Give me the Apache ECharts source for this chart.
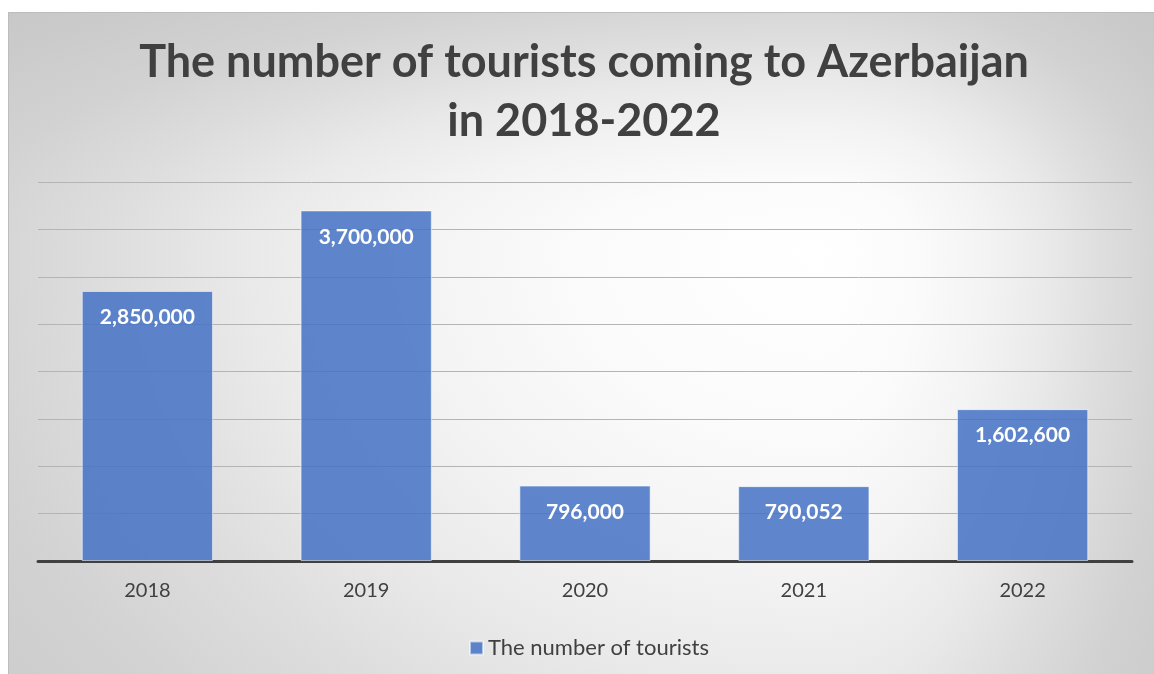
<!DOCTYPE html>
<html>
<head>
<meta charset="utf-8">
<script src="https://cdn.jsdelivr.net/npm/echarts@6/dist/echarts.min.js"></script>
<style>
  html, body { margin: 0; padding: 0; background: #ffffff; }
  #chart { width: 1154px; height: 674px; }
</style>
</head>
<body>
<div id="chart"></div>
<script>
const titleText = 'The number of tourists coming to Azerbaijan\nin 2018-2022';
const seriesName = 'The number of tourists';
const years = ['2018', '2019', '2020', '2021', '2022'];
const tourists = [2850000, 3700000, 796000, 790052, 1602600];

const FONT = 'Lato, "Open Sans", sans-serif';
const chart = echarts.init(document.getElementById('chart'), null, { renderer: 'canvas' });

// Chart-area backdrop: a light spot fading to grey, stretched differently
// towards each side (four quarter-discs, each scaled on its own).
const FX = 820, FY = 250;            // brightest point
const reach = { left: 800, right: 320, top: 238, bottom: 615 };
const R = 150;                        // local radius = 1.5 x reach
function shadeStops() {
  return [
    { offset: 0.00, color: '#ffffff' },
    { offset: 0.20, color: '#fbfbfb' },
    { offset: 0.35, color: '#f3f3f3' },
    { offset: 0.48, color: '#e9e9e9' },
    { offset: 0.60, color: '#dddddd' },
    { offset: 0.73, color: '#d2d2d2' },
    { offset: 0.87, color: '#cbcbcb' },
    { offset: 1.00, color: '#c6c6c6' }
  ];
}
const eps = 0.01;
const quarters = [
  { a0: 0 - eps,            a1: Math.PI / 2 + eps,     sx: reach.right, sy: reach.bottom },
  { a0: Math.PI / 2 - eps,  a1: Math.PI + eps,         sx: reach.left,  sy: reach.bottom },
  { a0: Math.PI - eps,      a1: Math.PI * 1.5 + eps,   sx: reach.left,  sy: reach.top },
  { a0: Math.PI * 1.5 - eps, a1: Math.PI * 2 + eps,    sx: reach.right, sy: reach.top }
];
const backdrop = quarters.map(q => ({
  type: 'sector',
  silent: true,
  z: -100,
  x: FX, y: FY,
  originX: 0, originY: 0,
  scaleX: q.sx / 100,
  scaleY: q.sy / 100,
  shape: { cx: 0, cy: 0, r0: 0, r: R, startAngle: q.a0, endAngle: q.a1, clockwise: true },
  style: {
    fill: new echarts.graphic.RadialGradient(0, 0, R, shadeStops(), true)
  }
}));

chart.setOption({
  backgroundColor: '#ffffff',
  animation: false,
  graphic: backdrop.concat([
    { type: 'rect', silent: true, z: -99, shape: { x: 0, y: 0, width: 1154, height: 12 }, style: { fill: '#ffffff' } },
    { type: 'rect', silent: true, z: -99, shape: { x: 0, y: 0, width: 8, height: 674 }, style: { fill: '#ffffff' } },
    {
      type: 'rect', silent: true, z: -98,
      shape: { x: 8.5, y: 12.5, width: 1160, height: 680 },
      style: { fill: 'none', stroke: '#bdbdbd', lineWidth: 1 }
    }
  ]),
  title: {
    text: titleText,
    left: 579,
    top: 28,
    textAlign: 'center',
    textStyle: {
      fontFamily: FONT,
      fontWeight: 'bold',
      fontSize: 45,
      lineHeight: 59,
      color: '#404040'
    }
  },
  legend: {
    data: [seriesName],
    left: 464,
    top: 632,
    icon: 'rect',
    itemWidth: 13,
    itemHeight: 13,
    itemGap: 6,
    textStyle: { fontFamily: FONT, fontSize: 22, color: '#404040' }
  },
  grid: { left: 38, right: 22, top: 182, bottom: 113, containLabel: false },
  xAxis: {
    type: 'category',
    data: years,
    axisTick: { show: false },
    axisLine: { lineStyle: { color: '#404040', width: 3 } },
    axisLabel: { fontFamily: FONT, fontSize: 20, color: '#404040', margin: 20 }
  },
  yAxis: {
    type: 'value',
    min: 0,
    max: 4000000,
    interval: 500000,
    axisLabel: { show: false },
    axisLine: { show: false },
    axisTick: { show: false },
    splitLine: { lineStyle: { color: '#b4b4b4', width: 1 } }
  },
  series: [{
    name: seriesName,
    type: 'bar',
    data: tourists,
    barCategoryGap: '40%',
    itemStyle: {
      color: 'rgba(68,114,196,0.85)',
      borderColor: 'rgba(255,255,255,0.55)',
      borderWidth: 1
    },
    label: {
      show: true,
      position: 'insideTop',
      distance: 16,
      fontFamily: FONT,
      fontWeight: 'bold',
      fontSize: 21,
      color: '#ffffff',
      formatter: p => p.value.toLocaleString('en-US')
    }
  }]
});
</script>
</body>
</html>
